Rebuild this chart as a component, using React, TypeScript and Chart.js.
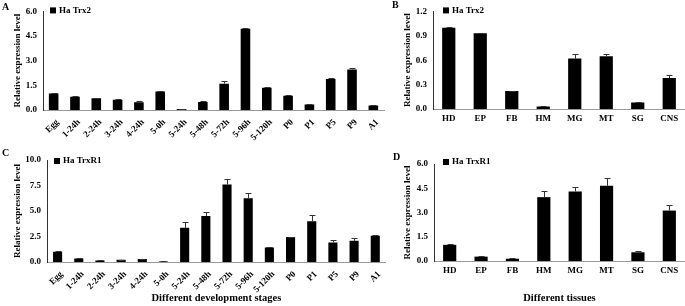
import React, { useEffect, useRef } from "react";
import { Chart, registerables } from "chart.js";

Chart.register(...registerables);

const FONT = "'Liberation Serif', 'Times New Roman', serif";

// ---------- data ----------
const stageLabels = [
  "Egg", "1-24h", "2-24h", "3-24h", "4-24h", "5-0h", "5-24h", "5-48h",
  "5-72h", "5-96h", "5-120h", "P0", "P1", "P5", "P9", "A1",
];
const tissueLabels = ["HD", "EP", "FB", "HM", "MG", "MT", "SG", "CNS"];

const trx2StageValues = [1.0, 0.8, 0.72, 0.63, 0.47, 1.12, 0.06, 0.49, 1.6, 4.95, 1.35, 0.86, 0.33, 1.88, 2.47, 0.27];
const trx2StageErrors = [0.06, 0.05, 0.03, 0.05, 0.05, 0.04, 0.01, 0.06, 0.14, 0.06, 0.02, 0.07, 0.02, 0.09, 0.09, 0.02];

const trx2TissueValues = [1.0, 0.93, 0.22, 0.03, 0.62, 0.65, 0.08, 0.38];
const trx2TissueErrors = [0.01, 0.01, 0.005, 0.002, 0.06, 0.025, 0.003, 0.04];

const trxr1StageValues = [1.0, 0.34, 0.15, 0.22, 0.3, 0.04, 3.35, 4.5, 7.6, 6.25, 1.43, 2.44, 4.0, 1.92, 2.08, 2.57];
const trxr1StageErrors = [0.04, 0.02, 0.01, 0.02, 0.03, 0.01, 0.62, 0.38, 0.55, 0.55, 0.06, 0.06, 0.65, 0.27, 0.3, 0.1];

const trxr1TissueValues = [1.0, 0.27, 0.14, 3.95, 4.3, 4.65, 0.54, 3.12];
const trxr1TissueErrors = [0.03, 0.02, 0.03, 0.4, 0.3, 0.5, 0.05, 0.37];

const yTitle = "Relative expression level";
const stageTitle = "Different development stages";
const tissueTitle = "Different tissues";

// ---------- plugins ----------
const errorBarPlugin = {
  id: "errorBars",
  afterDatasetsDraw(chart: any) {
    const ctx = chart.ctx;
    const y = chart.scales.y;
    chart.data.datasets.forEach((ds: any, di: number) => {
      const meta = chart.getDatasetMeta(di);
      const errs = ds.errors || [];
      meta.data.forEach((bar: any, i: number) => {
        const v = ds.data[i];
        const e = errs[i];
        if (!e) return;
        const yTop = Math.round(y.getPixelForValue(v + e)) + 0.5;
        const yVal = y.getPixelForValue(v);
        const x = Math.round(bar.x) + 0.5;
        ctx.save();
        ctx.strokeStyle = "#333";
        ctx.lineWidth = 1;
        ctx.beginPath();
        ctx.moveTo(x, yVal);
        ctx.lineTo(x, yTop);
        ctx.moveTo(x - 3, yTop);
        ctx.lineTo(x + 3, yTop);
        ctx.stroke();
        ctx.restore();
      });
    });
  },
};

const boxLegendPlugin = {
  id: "boxLegend",
  afterDraw(chart: any, _args: any, opts: any) {
    const ctx = chart.ctx;
    const ds = chart.data.datasets[0];
    const x = chart.chartArea.left + opts.dx;
    const y = chart.chartArea.top + opts.dy;
    ctx.save();
    ctx.fillStyle = "#000";
    ctx.fillRect(x, y, 6, 6);
    ctx.font = `bold 9px ${FONT}`;
    ctx.textBaseline = "middle";
    ctx.textAlign = "left";
    ctx.fillText(ds.label, x + 9, y + 3);
    ctx.restore();
  },
};

type PanelProps = {
  left: number;
  top: number;
  width: number;
  height: number;
  labels: string[];
  values: number[];
  errors: number[];
  name: string;
  yMax: number;
  yStep: number;
  yWidth: number;
  xHeight: number;
  padTop: number;
  padRight: number;
  rotate: boolean;
  barPct: number;
  xTitle?: string;
  xTitlePadBottom?: number;
  legendDx: number;
  legendDy: number;
};

function Panel(p: PanelProps) {
  const ref = useRef<HTMLCanvasElement | null>(null);
  useEffect(() => {
    if (!ref.current) return;
    const chart = new Chart(ref.current, {
      type: "bar",
      data: {
        labels: p.labels,
        datasets: [
          {
            label: p.name,
            data: p.values,
            errors: p.errors,
            backgroundColor: "#000",
            borderWidth: 0,
            barPercentage: p.barPct,
            categoryPercentage: 1,
          } as any,
        ],
      },
      options: {
        animation: false,
        responsive: false,
        maintainAspectRatio: false,
        layout: { padding: { top: p.padTop, right: p.padRight, left: 0, bottom: 0 } },
        plugins: {
          legend: { display: false },
          tooltip: { enabled: false },
          boxLegend: { dx: p.legendDx, dy: p.legendDy },
        } as any,
        scales: {
          x: {
            grid: { display: false, drawTicks: false },
            border: { display: true, color: "#9a9a9a", width: 1 },
            ticks: {
              color: "#000",
              font: { family: FONT, size: 9, weight: "bold" },
              maxRotation: p.rotate ? 45 : 0,
              minRotation: p.rotate ? 45 : 0,
              autoSkip: false,
              padding: p.rotate ? 7 : 4,
              labelOffset: p.rotate ? 4 : 0,
            },
            title: p.xTitle
              ? {
                  display: true,
                  text: p.xTitle,
                  color: "#000",
                  font: { family: FONT, size: 10.5, weight: "bold" },
                  padding: { top: 0, bottom: p.xTitlePadBottom ?? 0 },
                }
              : { display: false },
            afterFit: (s: any) => {
              s.height = p.xHeight;
            },
          },
          y: {
            min: 0,
            max: p.yMax,
            grid: { display: false, drawTicks: false },
            border: { display: true, color: "#333", width: 1 },
            ticks: {
              stepSize: p.yStep,
              color: "#000",
              font: { family: FONT, size: 9, weight: "bold" },
              padding: 6,
              callback: (v: any) => Number(v).toFixed(1),
            },
            title: {
              display: true,
              text: yTitle,
              color: "#000",
              font: { family: FONT, size: 9, weight: "bold" },
              padding: { top: 12, bottom: 0 },
            },
            afterFit: (s: any) => {
              s.width = p.yWidth;
            },
          },
        },
      },
      plugins: [errorBarPlugin, boxLegendPlugin],
    });
    return () => chart.destroy();
  }, []);
  return (
    <canvas
      ref={ref}
      width={p.width}
      height={p.height}
      style={{ position: "absolute", left: p.left, top: p.top, width: p.width, height: p.height }}
    />
  );
}

const letterStyle: React.CSSProperties = {
  position: "absolute",
  fontFamily: FONT,
  fontWeight: "bold",
  fontSize: 10,
  lineHeight: "10px",
  color: "#000",
};

export default function App() {
  return (
    <div
      style={{
        position: "absolute",
        left: 0,
        top: 0,
        width: 685,
        height: 306,
        background: "#fff",
        overflow: "hidden",
      }}
    >
      <Panel
        left={0} top={0} width={390} height={145}
        labels={stageLabels} values={trx2StageValues} errors={trx2StageErrors}
        name="Ha Trx2" yMax={6} yStep={1.5} yWidth={43} xHeight={35}
        padTop={8} padRight={6} rotate barPct={0.45}
        legendDx={7} legendDy={-4}
      />
      <Panel
        left={390} top={0} width={295} height={145}
        labels={tissueLabels} values={trx2TissueValues} errors={trx2TissueErrors}
        name="Ha Trx2" yMax={1.2} yStep={0.3} yWidth={43} xHeight={36}
        padTop={9} padRight={0} rotate={false} barPct={0.42}
        legendDx={10} legendDy={-4}
      />
      <Panel
        left={0} top={145} width={390} height={161}
        labels={stageLabels} values={trxr1StageValues} errors={trxr1StageErrors}
        name="Ha TrxR1" yMax={10} yStep={2.5} yWidth={47} xHeight={44}
        padTop={15} padRight={3} rotate barPct={0.43}
        xTitle={stageTitle} xTitlePadBottom={1}
        legendDx={7} legendDy={-2}
      />
      <Panel
        left={390} top={145} width={295} height={161}
        labels={tissueLabels} values={trxr1TissueValues} errors={trxr1TissueErrors}
        name="Ha TrxR1" yMax={6} yStep={1.5} yWidth={44} xHeight={45}
        padTop={19} padRight={0} rotate={false} barPct={0.42}
        xTitle={tissueTitle} xTitlePadBottom={1}
        legendDx={9} legendDy={-5}
      />
      <div style={{ ...letterStyle, left: 2, top: 2 }}>A</div>
      <div style={{ ...letterStyle, left: 392, top: 0 }}>B</div>
      <div style={{ ...letterStyle, left: 2, top: 148 }}>C</div>
      <div style={{ ...letterStyle, left: 393, top: 152 }}>D</div>
    </div>
  );
}
